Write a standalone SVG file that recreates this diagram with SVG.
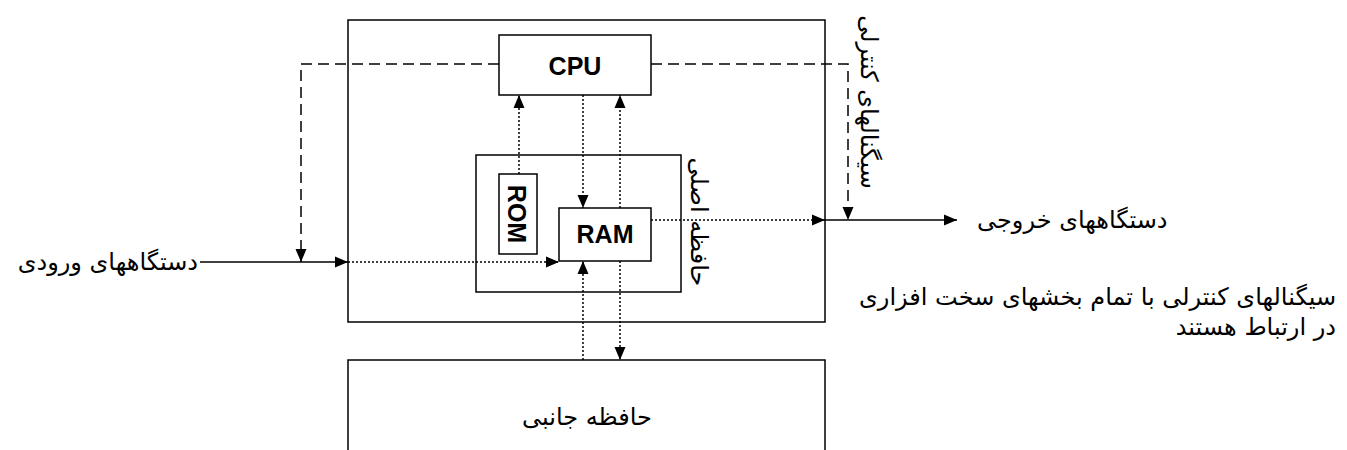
<svg xmlns="http://www.w3.org/2000/svg" width="1347" height="450" viewBox="0 0 1347 450">
<style>
.box{fill:#fff;stroke:#000;stroke-width:1.5}
.solid{fill:none;stroke:#000;stroke-width:1.5}
.dash{fill:none;stroke:#000;stroke-width:1.5;stroke-dasharray:11 6}
.dot{fill:none;stroke:#000;stroke-width:1.5;stroke-dasharray:2 2}
.en{font-family:"Liberation Sans",Arial,sans-serif;font-weight:bold;font-size:25px;fill:#000}
.fa{font-family:"DejaVu Sans","Noto Sans",sans-serif;font-size:24px;fill:#000}
</style>
<defs>
<marker id="arr" markerUnits="userSpaceOnUse" markerWidth="14" markerHeight="12" refX="13" refY="5.5" orient="auto" viewBox="0 0 14 11">
<path d="M0,0 L13,5.5 L0,11 z" fill="#000"/>
</marker>
</defs>
<g id="main-box"><rect class="box" x="348" y="20" width="477" height="302"/></g>
<g id="secondary-memory"><rect class="box" x="348" y="360" width="477" height="100"/>
<text class="fa" x="587" y="425" text-anchor="middle">حافظه جانبی</text></g>
<g id="main-memory"><rect class="box" x="476" y="155" width="205" height="137"/>
<text class="fa" transform="translate(691,222) rotate(90)" text-anchor="middle">حافظه اصلی</text></g>
<g id="cpu"><rect class="box" x="499" y="35" width="152" height="60"/>
<text class="en" x="575" y="75" text-anchor="middle">CPU</text></g>
<g id="rom"><rect class="box" x="499" y="174" width="38" height="80"/>
<text class="en" transform="translate(508,214) rotate(90)" text-anchor="middle">ROM</text></g>
<g id="ram"><rect class="box" x="559" y="208" width="92" height="53"/>
<text class="en" x="605" y="243" text-anchor="middle">RAM</text></g>
<g id="input-label"><text class="fa" x="198" y="270" text-anchor="end">دستگاههای ورودی</text></g>
<g id="output-label"><text class="fa" x="977" y="228">دستگاههای خروجی</text></g>
<g id="control-label"><text class="fa" transform="translate(861,102) rotate(90)" text-anchor="middle">سیگنالهای کنترلی</text></g>
<g id="note"><text class="fa" x="1336" y="305" text-anchor="end">سیگنالهای کنترلی با تمام بخشهای سخت افزاری</text>
<text class="fa" x="1336" y="335" text-anchor="end">در ارتباط هستند</text></g>
<g id="connectors">
<path class="solid" d="M200,262 H348" marker-end="url(#arr)"/>
<path class="solid" d="M825,220 H957" marker-end="url(#arr)"/>
<path class="dash" d="M499,64 H301 V262" marker-end="url(#arr)"/>
<path class="dash" d="M651,64 H848 V220" marker-end="url(#arr)"/>
<path class="dot" d="M348,262 H559" marker-end="url(#arr)"/>
<path class="dot" d="M651,220 H825" marker-end="url(#arr)"/>
<path class="dot" d="M519,174 V95" marker-end="url(#arr)"/>
<path class="dot" d="M583,95 V208" marker-end="url(#arr)"/>
<path class="dot" d="M620,208 V95" marker-end="url(#arr)"/>
<path class="dot" d="M620,261 V360" marker-end="url(#arr)"/>
<path class="dot" d="M583,360 V261" marker-end="url(#arr)"/>
</g>
</svg>
